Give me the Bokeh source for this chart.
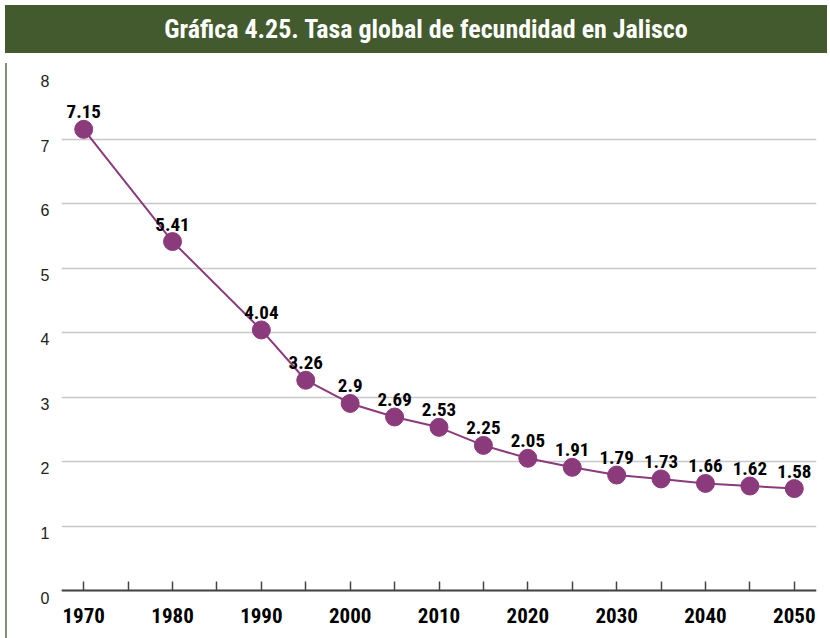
from bokeh.plotting import figure
from bokeh.models import ColumnDataSource, FixedTicker, LabelSet, Div, Range1d, LinearAxis
from bokeh.core.properties import value
from bokeh.layouts import column, row
from bokeh.embed import file_html
from bokeh.resources import INLINE

title_text = "Gráfica 4.25. Tasa global de fecundidad en Jalisco"
years = [1970, 1980, 1990, 1995, 2000, 2005, 2010, 2015, 2020, 2025, 2030, 2035, 2040, 2045, 2050]
tgf = [7.15, 5.41, 4.04, 3.26, 2.9, 2.69, 2.53, 2.25, 2.05, 1.91, 1.79, 1.73, 1.66, 1.62, 1.58]
labels = [str(v) for v in tgf]
x_label_ticks = [1970, 1980, 1990, 2000, 2010, 2020, 2030, 2040, 2050]
x_minor_ticks = [1975, 1985, 1995, 2005, 2015, 2025, 2035, 2045]
y_ticks = [0, 1, 2, 3, 4, 5, 6, 7, 8]

GREEN = "#425a2d"
PURPLE = "#8b3a7c"
NARROW = "Roboto Condensed"

src = ColumnDataSource(dict(x=years, y=tgf, lab=labels))

header = Div(
    text=title_text, width=822, height=48,
    styles={"background-color": GREEN, "color": "white",
            "font-family": "'Roboto Condensed', Roboto, sans-serif",
            "font-weight": "bold", "font-size": "26px", "text-align": "center",
            "line-height": "48px", "padding-left": "20px", "box-sizing": "border-box"},
)
edge = Div(text="", width=2, height=585, styles={"background-color": "#7d9070"})

# frame extends a few pixels below 0 so the y tick labels can sit just under their gridlines
pad = 0.1085
p = figure(width=820, height=585, output_backend="svg", toolbar_location=None,
           x_range=Range1d(1967.5, 2052.5), y_range=Range1d(-pad, 8),
           min_border_left=49, min_border_right=16, min_border_top=16, min_border_bottom=46,
           outline_line_color=None)
p.extra_y_ranges = {"lab": Range1d(0, 8 + pad)}

p.line("x", "y", source=src, line_color=PURPLE, line_width=2)
p.scatter("x", "y", source=src, size=18, fill_color=PURPLE, line_color=PURPLE)
p.add_layout(LabelSet(x="x", y="y", text="lab", source=src, x_offset=0, y_offset=11,
                      text_align="center", text_baseline="bottom", text_font=value(NARROW),
                      text_font_style="bold", text_font_size="19px", text_color="black"))

# x tick labels (axis at frame bottom, line/ticks hidden)
p.xaxis.ticker = FixedTicker(ticks=x_label_ticks)
p.xaxis.axis_line_color = None
p.xaxis.major_tick_line_color = None
p.xaxis.minor_tick_line_color = None
p.xaxis.major_tick_in = 0
p.xaxis.major_tick_out = 0
p.xaxis.major_label_text_font = NARROW
p.xaxis.major_label_text_font_style = "bold"
p.xaxis.major_label_text_font_size = "21px"
p.xaxis.major_label_text_color = "black"
p.xaxis.major_label_standoff = 10

# x axis line and inward ticks at y = 0 (all as minor ticks, so no labels)
xline = LinearAxis(fixed_location=0,
                   ticker=FixedTicker(ticks=[], minor_ticks=sorted(x_label_ticks + x_minor_ticks)))
xline.axis_line_color = "#444444"
xline.axis_line_width = 2
xline.major_tick_line_color = None
xline.minor_tick_in = 9
xline.minor_tick_out = 0
xline.minor_tick_line_color = "#444444"
xline.minor_tick_line_width = 1.5
xline.major_label_standoff = 0
p.add_layout(xline, "below")

p.yaxis.visible = False
yax = LinearAxis(y_range_name="lab", ticker=FixedTicker(ticks=y_ticks))
yax.axis_line_color = None
yax.major_tick_line_color = None
yax.minor_tick_line_color = None
yax.major_tick_out = 0
yax.major_tick_in = 0
yax.major_label_text_font = "Liberation Sans"
yax.major_label_text_font_size = "16px"
yax.major_label_text_color = "#222222"
yax.major_label_standoff = 12
p.add_layout(yax, "left")

p.xgrid.grid_line_color = None
p.ygrid.ticker = FixedTicker(ticks=y_ticks)
p.ygrid.grid_line_color = "#c8c8c8"
p.ygrid.grid_line_width = 1.5

layout = column(header, row(edge, p, spacing=0), spacing=0)
open("out.html", "w").write(file_html(layout, INLINE))
